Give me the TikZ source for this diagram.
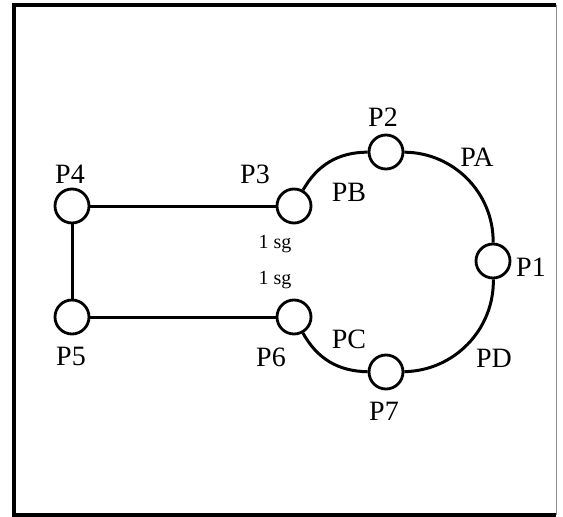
\documentclass[tikz,border=0pt]{standalone}
\usepackage{fontspec}
\setmainfont{Liberation Serif}
\usepackage{tikz}
\usetikzlibrary{positioning}

\begin{document}
\begin{tikzpicture}[x=1pt,y=-1pt,
  pnode/.style={circle,draw,line width=2.8pt,minimum size=34pt,inner sep=0pt},
  plabel/.style={font=\fontsize{28}{28}\selectfont,inner sep=0pt},
  sglabel/.style={font=\fontsize{20}{20}\selectfont,inner sep=0pt},
  pline/.style={line width=3pt}]
\useasboundingbox (0,0) rectangle (563,517);

% Frame
\draw[line width=4.5pt] (556,5) -- (14,5) -- (14,515) -- (556,515);
\draw[line width=1pt,black!45] (556,5) -- (556,515);

% Stations - left pair
\node[pnode] (p4) at (72,206) {};
\node[pnode] (p5) at (72,317) {};

% Stations - loop
\node[pnode] (p3) at (294,206) {};
\node[pnode] (p2) at (386,152) {};
\node[pnode] (p1) at (493,261) {};
\node[pnode] (p7) at (386,372) {};
\node[pnode] (p6) at (294,317) {};

% Straight pipes
\draw[pline] (p4) -- (p3);
\draw[pline] (p4) -- (p5);
\draw[pline] (p5) -- (p6);

% Loop pipes
\draw[pline] (p3) to[bend left=30] (p2);
\draw[pline] (p2) to[bend left=45] (p1);
\draw[pline] (p1) to[bend left=45] (p7);
\draw[pline] (p7) to[bend left=30] (p6);

% Station labels
\node[plabel] (l4) at (70,174) {P4};
\node[plabel] (l5) at (71,356) {P5};
\node[plabel] (l3) at (255,174) {P3};
\node[plabel] (l6) at (271,357) {P6};
\node[plabel] (l2) at (383,117) {P2};
\node[plabel] (l1) at (531,267) {P1};
\node[plabel] (l7) at (384,411) {P7};

% Pipe labels
\node[plabel] (la) at (477,157) {PA};
\node[plabel] (lb) at (349,192) {PB};
\node[plabel] (lc) at (349,339) {PC};
\node[plabel] (ld) at (494,358) {PD};

% Signal labels
\node[sglabel] (s3) at (275,244) {1 sg};
\node[sglabel] (s6) at (275,280) {1 sg};
\end{tikzpicture}
\end{document}
